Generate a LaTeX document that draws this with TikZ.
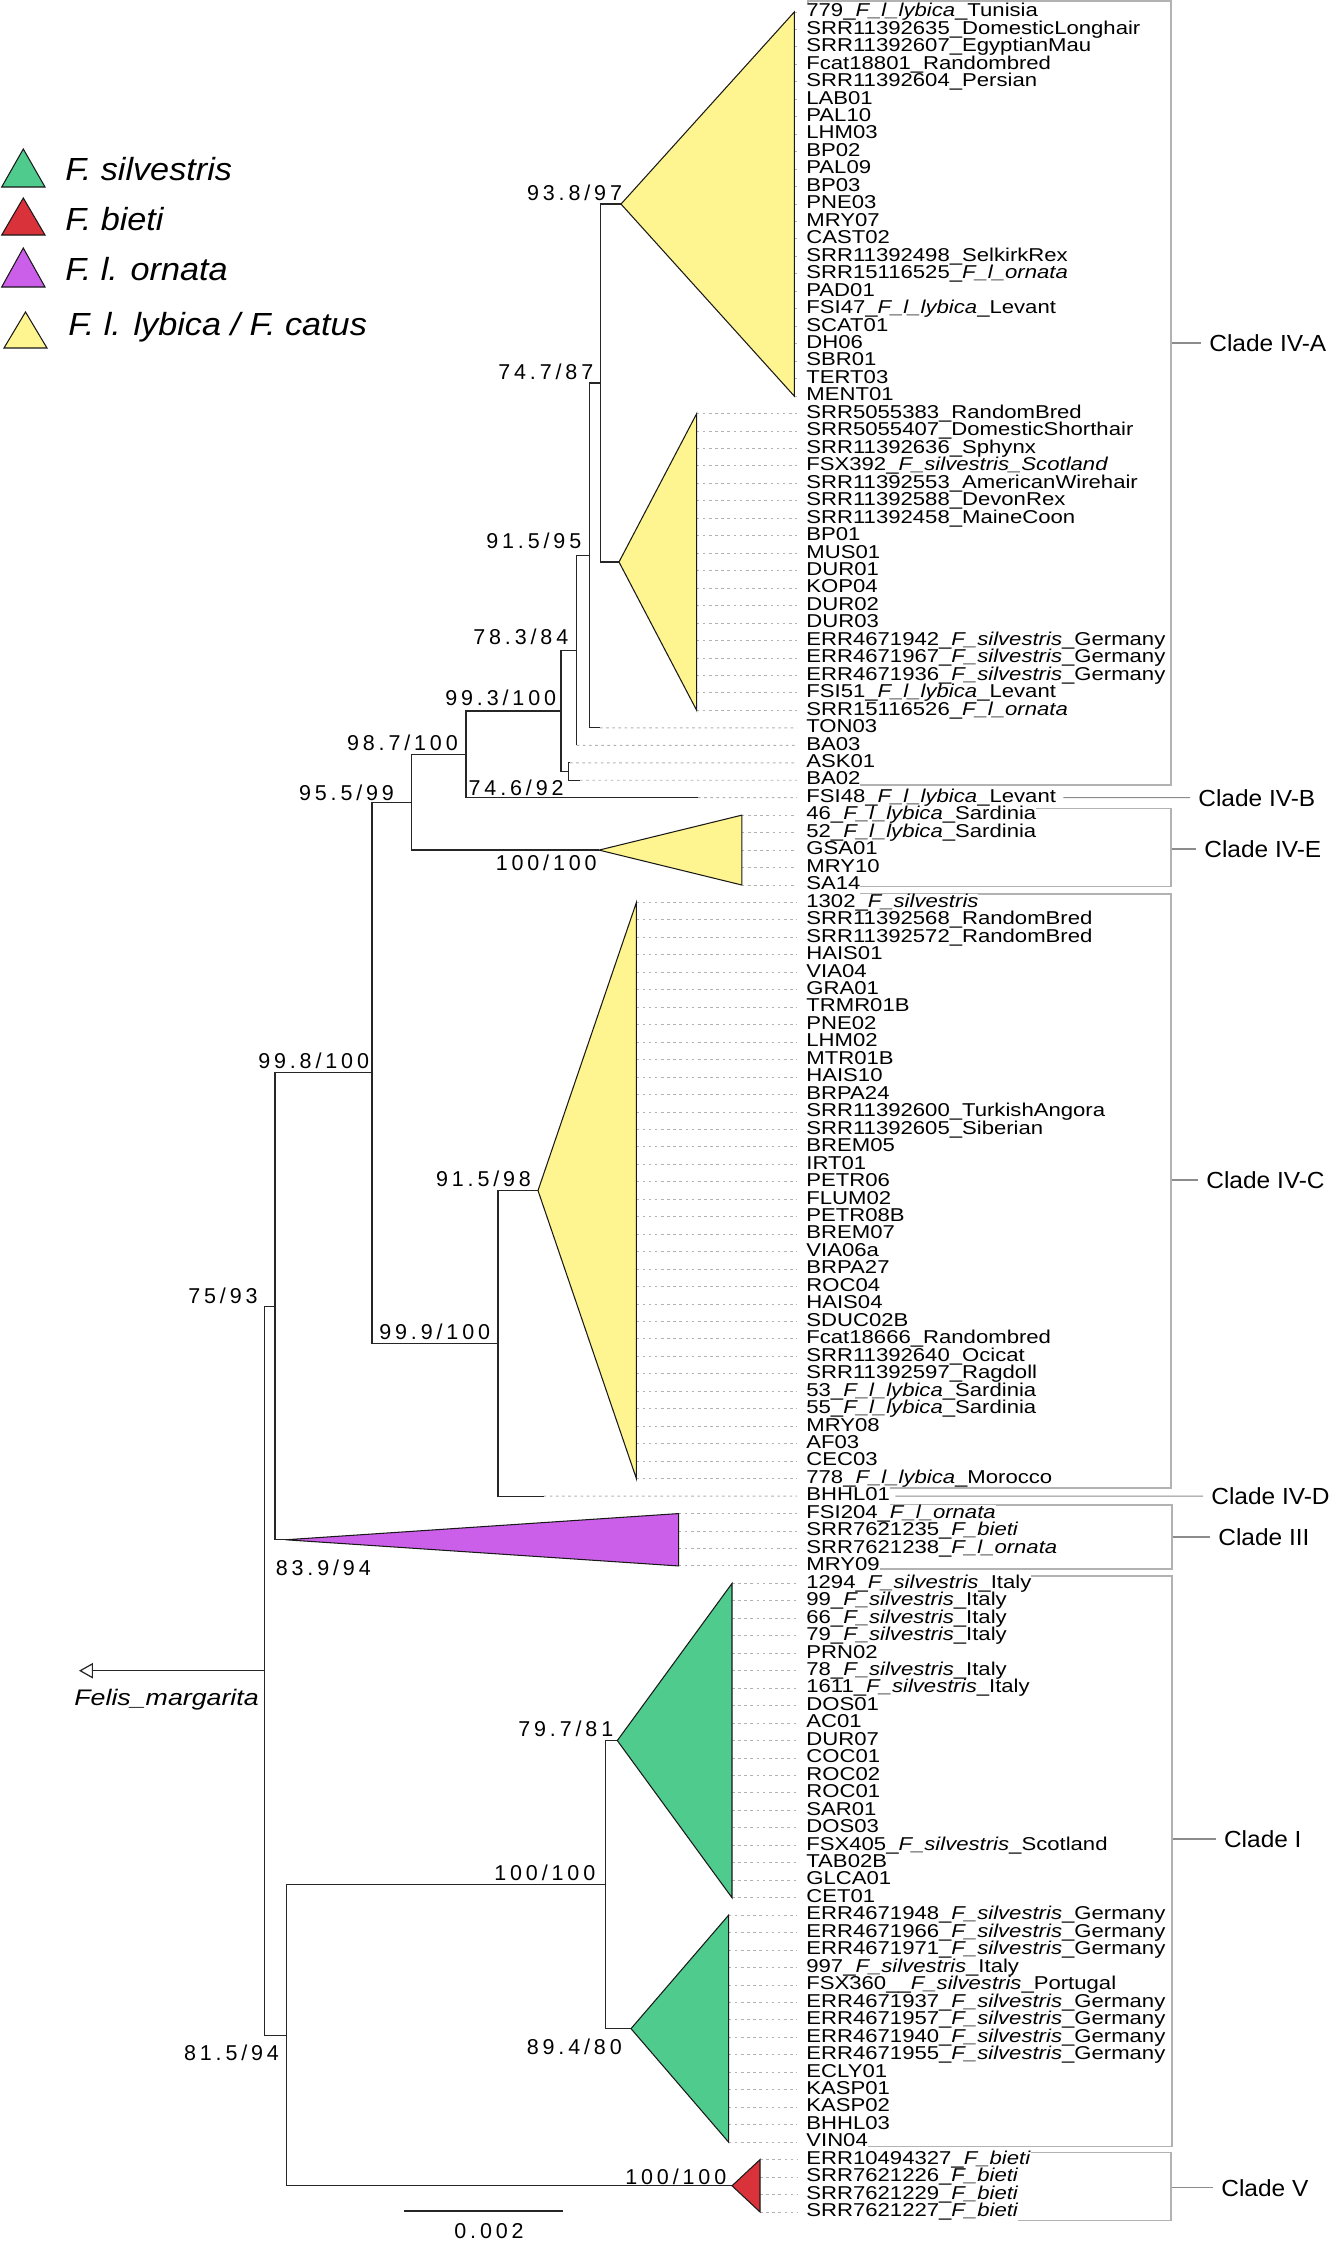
\documentclass[tikz,border=0pt]{standalone}
\usepackage{fontspec}
\setmainfont{Liberation Sans}
\newfontfamily\leaffont[FakeStretch=1.19]{Liberation Sans}
\newfontfamily\supfont[LetterSpace=18]{Liberation Sans}
\newfontfamily\cladefont[FakeStretch=1.05]{Liberation Sans}
\newfontfamily\legfont[FakeStretch=1.07]{Liberation Sans}
\usepackage{tikz}
\usetikzlibrary{arrows.meta,fit,calc}
\definecolor{CatYellow}{HTML}{FFF590}
\definecolor{SilGreen}{HTML}{4FCB8E}
\definecolor{BietiRed}{HTML}{D9323B}
\definecolor{OrnPurple}{HTML}{CB5FE9}
\newcommand\Fll{\textit{F\_l\_lybica}}
\newcommand\Flo{\textit{F\_l\_ornata}}
\newcommand\Fs{\textit{F\_silvestris}}
\newcommand\Fb{\textit{F\_bieti}}

\begin{document}
\begin{tikzpicture}[x=0.02cm,y=-0.02cm,
  branch/.style={draw=black!85,line width=0.7pt},
  tri/.style={draw=black!90,line width=0.6pt,line join=miter},
  tipline/.style={draw=black!30,line width=0.55pt,dash pattern=on 1.5pt off 2pt,shorten >=0.18cm},
  leaf/.style={font=\leaffont\fontsize{10.58}{12}\selectfont,anchor=west,inner sep=0pt,text height=7.7pt,text depth=2.3pt,fill=white},
  sup/.style={font=\supfont\fontsize{12.23}{14}\selectfont,anchor=base west,inner sep=0pt},
  cladebox/.style={draw=black!30,line width=0.7pt,inner sep=0pt},
  cladeline/.style={draw=black!45,line width=0.6pt},
  cladelab/.style={font=\cladefont\fontsize{13.26}{15}\selectfont,anchor=west,inner xsep=0.16cm,inner ysep=0pt},
  legtext/.style={font=\legfont\itshape\fontsize{18.2}{20}\selectfont,anchor=base west,inner sep=0pt},
  outarrow/.style={-{Triangle[open,length=0.28cm,width=0.31cm]}}
]
\useasboundingbox (0,0) rectangle (1340,2251);

\node[cladebox,fit={(808,1)(1171,785)}] (bIVA) {};
\node[cladebox,fit={(808,808.3)(1171,886.7)}] (bIVE) {};
\node[cladebox,fit={(808,894)(1171,1488)}] (bIVC) {};
\node[cladebox,fit={(808,1505)(1172,1569)}] (bIII) {};
\node[cladebox,fit={(808,1576)(1172,2146.7)}] (bI) {};
\node[cladebox,fit={(808,2152.7)(1171,2220.7)}] (bV) {};

\foreach \lab [count=\i] in {779\_\Fll\_Tunisia,SRR11392635\_DomesticLonghair,SRR11392607\_EgyptianMau,
  Fcat18801\_Randombred,SRR11392604\_Persian,LAB01,PAL10,LHM03,BP02,PAL09,BP03,PNE03,MRY07,CAST02,
  SRR11392498\_SelkirkRex,SRR15116525\_\Flo,PAD01,FSI47\_\Fll\_Levant,SCAT01,DH06,SBR01,TERT03,MENT01,
  SRR5055383\_RandomBred,SRR5055407\_DomesticShorthair,SRR11392636\_Sphynx,FSX392\_\textit{F\_silvestris\_Scotland},
  SRR11392553\_AmericanWirehair,SRR11392588\_DevonRex,SRR11392458\_MaineCoon,BP01,MUS01,DUR01,KOP04,DUR02,DUR03,
  ERR4671942\_\Fs\_Germany,ERR4671967\_\Fs\_Germany,ERR4671936\_\Fs\_Germany,FSI51\_\Fll\_Levant,SRR15116526\_\Flo,
  TON03,BA03,ASK01,BA02,FSI48\_\Fll\_Levant,
  46\_\Fll\_Sardinia,52\_\Fll\_Sardinia,GSA01,MRY10,SA14,
  1302\_\Fs,SRR11392568\_RandomBred,SRR11392572\_RandomBred,HAIS01,VIA04,GRA01,TRMR01B,PNE02,LHM02,MTR01B,HAIS10,
  BRPA24,SRR11392600\_TurkishAngora,SRR11392605\_Siberian,BREM05,IRT01,PETR06,FLUM02,PETR08B,BREM07,VIA06a,BRPA27,
  ROC04,HAIS04,SDUC02B,Fcat18666\_Randombred,SRR11392640\_Ocicat,SRR11392597\_Ragdoll,53\_\Fll\_Sardinia,
  55\_\Fll\_Sardinia,MRY08,AF03,CEC03,778\_\Fll\_Morocco,BHHL01,
  FSI204\_\Flo,SRR7621235\_\Fb,SRR7621238\_\Flo,MRY09,
  1294\_\Fs\_Italy,99\_\Fs\_Italy,66\_\Fs\_Italy,79\_\Fs\_Italy,PRN02,78\_\Fs\_Italy,1611\_\Fs\_Italy,DOS01,AC01,
  DUR07,COC01,ROC02,ROC01,SAR01,DOS03,FSX405\_\Fs\_Scotland,TAB02B,GLCA01,CET01,
  ERR4671948\_\Fs\_Germany,ERR4671966\_\Fs\_Germany,ERR4671971\_\Fs\_Germany,997\_\Fs\_Italy,FSX360\_\_\Fs\_Portugal,
  ERR4671937\_\Fs\_Germany,ERR4671957\_\Fs\_Germany,ERR4671940\_\Fs\_Germany,ERR4671955\_\Fs\_Germany,
  ECLY01,KASP01,KASP02,BHHL03,VIN04,
  ERR10494327\_\Fb,SRR7621226\_\Fb,SRR7621229\_\Fb,SRR7621227\_\Fb}
  \node[leaf] (l\i) at (806,{12+(\i-1)*17.46}) {\lab};

\foreach \a/\b/\x in {1/23/794.3,24/41/696.7,47/51/741.8,52/85/636.4,87/90/678.6,91/109/732,110/123/728.6,124/127/760}{
  \coordinate (tip) at (\x,0);
  \foreach \i in {\a,...,\b}
    \draw[tipline] (tip |- l\i.west) -- (l\i.west);
}

\coordinate (t1) at (621,204.06);
\coordinate (t2) at (619,562);
\coordinate (nA) at (600.7,383.03);
\coordinate (k42) at (600,727.86);
\coordinate (nB) at (589.3,555.4);
\coordinate (k43) at (576.7,745.32);
\coordinate (nC) at (576.7,650.4);
\coordinate (k44) at (570,762.78);
\coordinate (k45) at (580,780.24);
\coordinate (nE) at (568.3,771.5);
\coordinate (nD) at (561,710.95);
\coordinate (k46) at (698,797.7);
\coordinate (nF) at (466,754.3);
\coordinate (tE) at (599,850.08);
\coordinate (nG) at (411.5,802.2);
\coordinate (tC) at (538,1190.55);
\coordinate (k86) at (543.6,1496.1);
\coordinate (nJ) at (497.9,1343.3);
\coordinate (nH) at (372,1072.75);
\coordinate (tIII) at (285.7,1539.75);
\coordinate (nI) at (275,1306.25);
\coordinate (tIa) at (617.3,1740.54);
\coordinate (tIb) at (631,2028.63);
\coordinate (nM) at (605.6,1884.6);
\coordinate (tV) at (732,2185.77);
\coordinate (nL) at (286.7,2035.2);
\coordinate (nK) at (264.3,1670.7);
\coordinate (og) at (79,1670.7);

\draw[tipline] (k42) -- (l42.west);
\draw[tipline] (k43) -- (l43.west);
\draw[tipline] (k44) -- (l44.west);
\draw[tipline] (k45) -- (l45.west);
\draw[tipline] (k46) -- (l46.west);
\draw[tipline] (k86) -- (l86.west);

\draw[branch] (t1) -| (nA) |- (t2);
\draw[branch] (nA) -| (nB) |- (k42);
\draw[branch] (nB) -| (nC) |- (k43);
\draw[branch] (k44) -| (nE) |- (k45);
\draw[branch] (nC) -| (nD) |- (nE);
\draw[branch] (nD) -| (nF) |- (k46);
\draw[branch] (nF) -| (nG) |- (tE);
\draw[branch] (tC) -| (nJ) |- (k86);
\draw[branch] (nG) -| (nH) |- (nJ);
\draw[branch] (nH) -| (nI) |- (tIII);
\draw[branch] (tIa) -| (nM) |- (tIb);
\draw[branch] (nM) -| (nL) |- (tV);
\draw[branch] (nI) -| (nK) |- (nL);
\draw[branch,outarrow] (nK) -- (og);

\draw[tri,fill=CatYellow] (t1) -- (794.3,12) -- (794.3,396.12) -- cycle;
\draw[tri,fill=CatYellow] (t2) -- (696.7,413.58) -- (696.7,710.4) -- cycle;
\draw[tri,fill=CatYellow] (tE) -- (741.8,815.16) -- (741.8,885) -- cycle;
\draw[tri,fill=CatYellow] (tC) -- (636.4,902.46) -- (636.4,1478.64) -- cycle;
\draw[tri,fill=OrnPurple] (tIII) -- (678.6,1513.56) -- (678.6,1565.94) -- cycle;
\draw[tri,fill=SilGreen] (tIa) -- (732,1583.4) -- (732,1897.68) -- cycle;
\draw[tri,fill=SilGreen] (tIb) -- (728.6,1915.14) -- (728.6,2142.12) -- cycle;
\draw[tri,fill=BietiRed] (tV) -- (760,2159.58) -- (760,2211.96) -- cycle;

\node[sup] (supT1) at (526.7,200) {93.8/97};
\node[sup] (supA) at (498,379) {74.7/87};
\node[sup] (supB) at (486,548.3) {91.5/95};
\node[sup] (supC) at (473,644.3) {78.3/84};
\node[sup] (supD) at (445,705) {99.3/100};
\node[sup] (supF) at (346.7,750) {98.7/100};
\node[sup] (supK46) at (468.3,795) {74.6/92};
\node[sup] (supG) at (298.7,800) {95.5/99};
\node[sup] (supTE) at (495.4,870) {100/100};
\node[sup] (supH) at (257.9,1068) {99.8/100};
\node[sup] (supTC) at (435.7,1186) {91.5/98};
\node[sup] (supI) at (188,1303) {75/93};
\node[sup] (supJ) at (379,1339) {99.9/100};
\node[sup] (supTIII) at (275.5,1575) {83.9/94};
\node[sup] (supTIa) at (518,1736.7) {79.7/81};
\node[sup] (supM) at (494,1880.7) {100/100};
\node[sup] (supTIb) at (526.5,2054) {89.4/80};
\node[sup] (supL) at (183.7,2060.7) {81.5/94};
\node[sup] (supTV) at (625,2184) {100/100};

\node[font=\leaffont\itshape\fontsize{12.8}{14}\selectfont,anchor=base west,inner sep=0pt] (ogl) at (74,1705) {Felis\_margarita};

\coordinate (sb1) at (404,2211);
\coordinate (sb2) at (563,2211);
\draw[branch] (sb1) -- (sb2);
\node[sup] (sbl) at (454,2238) {0.002};

\node[cladelab] (cIVA) at (1201,343) {Clade IV-A};
\node[cladelab] (cIVB) at (1190,797.7) {Clade IV-B};
\node[cladelab] (cIVE) at (1196,849) {Clade IV-E};
\node[cladelab] (cIVC) at (1198,1180) {Clade IV-C};
\node[cladelab] (cIVD) at (1203,1496.1) {Clade IV-D};
\node[cladelab] (cIII) at (1210,1537) {Clade III};
\node[cladelab] (cI) at (1215.7,1839) {Clade I};
\node[cladelab] (cV) at (1213,2187.7) {Clade V};
\draw[cladeline] (bIVA.east |- cIVA.west) -- (cIVA.west);
\draw[cladeline,shorten <=0.14cm] (l46.east) -- (cIVB.west);
\draw[cladeline] (bIVE.east |- cIVE.west) -- (cIVE.west);
\draw[cladeline] (bIVC.east |- cIVC.west) -- (cIVC.west);
\draw[cladeline,shorten <=0.1cm] (l86.east) -- (cIVD.west);
\draw[cladeline] (bIII.east |- cIII.west) -- (cIII.west);
\draw[cladeline] (bI.east |- cI.west) -- (cI.west);
\draw[cladeline] (bV.east |- cV.west) -- (cV.west);

\draw[tri,fill=SilGreen] (1.7,187) -- (23.3,149) -- (45,187) -- cycle;
\draw[tri,fill=BietiRed] (1.7,235) -- (23.3,198) -- (45,235) -- cycle;
\draw[tri,fill=OrnPurple] (1.7,287) -- (23.3,248) -- (45,287) -- cycle;
\draw[tri,fill=CatYellow] (4,348) -- (25.5,312) -- (47,348) -- cycle;
\node[legtext] (lg1) at (65,180) {F. silvestris};
\node[legtext] (lg2) at (65,230) {F. bieti};
\node[legtext] (lg3) at (65,280) {F. l. ornata};
\node[legtext] (lg4) at (68,335) {F. l. lybica / F. catus};
\end{tikzpicture}
\end{document}
